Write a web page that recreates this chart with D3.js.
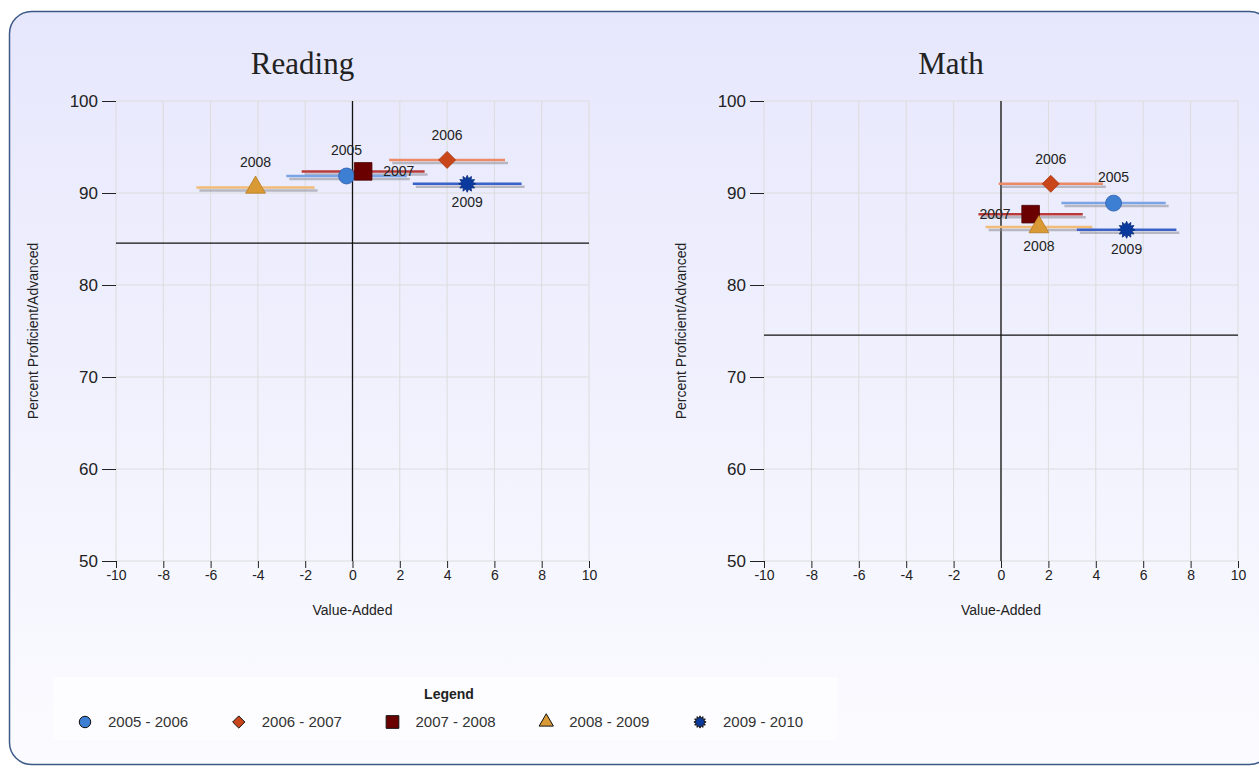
<!DOCTYPE html>
<html>
<head>
<meta charset="utf-8">
<title>Reading / Math value-added</title>
<style>
  body { margin: 0; background: #fff; }
  svg text { font-family: "Liberation Sans", Arial, sans-serif; }
  .title { font-family: "Liberation Serif", "Times New Roman", serif !important; font-size: 31px; fill: #222; }
  .grid line { stroke: #dcdcdc; stroke-width: 1; }
  .axis path { display: none; }
  .axis line { stroke: #222; }
  .axis text { fill: #222; }
</style>
</head>
<body>
<svg width="1259" height="768"></svg>
<script src="https://d3js.org/d3.v7.min.js"></script>
<script>

// ---- data ----
const years = ['2005', '2006', '2007', '2008', '2009'];
const legendLabels = ['2005 - 2006', '2006 - 2007', '2007 - 2008', '2008 - 2009', '2009 - 2010'];

const readingValueAdded = [-0.25, 4.0, 0.45, -4.1, 4.85];
const readingPercent    = [91.85, 93.6, 92.35, 90.6, 91.0];
const readingError      = [2.55, 2.45, 2.6, 2.5, 2.3];
const readingRef        = [0, 84.55];

const mathValueAdded = [4.75, 2.1, 1.25, 1.6, 5.3];
const mathPercent    = [88.9, 91.0, 87.7, 86.3, 86.0];
const mathError      = [2.2, 2.2, 2.2, 2.25, 2.1];
const mathRef        = [0, 74.55];

const xTicks = [-10, -8, -6, -4, -2, 0, 2, 4, 6, 8, 10];
const yTicks = [50, 60, 70, 80, 90, 100];

// ---- styles ----
const markerFill   = ['#3d7fd2', '#c8461a', '#6b0000', '#d99a35', '#0b3a9e'];
const markerStroke = ['#2a5ca8', '#a83510', '#4a0000', '#b87a20', '#062a7a'];
const barColor     = ['#7ba4e6', '#ec8a68', '#b83a3a', '#f2bb78', '#3a62c8'];

const svg = d3.select('svg');

const defs = svg.append('defs');
const grad = defs.append('linearGradient').attr('id', 'bg')
    .attr('x1', 0).attr('y1', 0).attr('x2', 0).attr('y2', 1);
grad.append('stop').attr('offset', '0%').attr('stop-color', '#e6e7fc');
grad.append('stop').attr('offset', '100%').attr('stop-color', '#fbfbff');

svg.append('rect')
    .attr('x', 9.5).attr('y', 11.5)
    .attr('width', 1262).attr('height', 753)
    .attr('rx', 22).attr('ry', 22)
    .attr('fill', 'url(#bg)')
    .attr('stroke', '#3d5a86')
    .attr('stroke-width', 1.5);

function burst(outer, inner, n) {
    const pts = [];
    for (let i = 0; i < n * 2; i++) {
        const r = i % 2 === 0 ? outer : inner;
        const a = Math.PI * i / n - Math.PI / 2;
        pts.push([r * Math.cos(a), r * Math.sin(a)]);
    }
    return 'M' + pts.map(p => p.join(',')).join('L') + 'Z';
}

function diamond(h) {
    return `M0,${-h}L${h},0L0,${h}L${-h},0Z`;
}

function markerPath(i, scale) {
    const s = scale || 1;
    if (i === 0) return d3.symbol(d3.symbolCircle, 200 * s * s)();
    if (i === 1) return diamond(8.5 * s);
    if (i === 2) return d3.symbol(d3.symbolSquare, 310 * s * s)();
    if (i === 3) return d3.symbol(d3.symbolTriangle, 170 * s * s)();
    return burst(8.5 * s, 5.5 * s, 12);
}

// label placement for each point: [dx, dy, anchor]
const readingLabelPos = [[0, -21, 'middle'], [0, -20, 'middle'], [20, 5, 'start'], [0, -20, 'middle'], [0, 23, 'middle']];
const mathLabelPos    = [[0, -21, 'middle'], [0, -20, 'middle'], [-20, 5, 'end'], [0, 24, 'middle'], [0, 24, 'middle']];

function panel(opts) {
    const left = opts.left, right = opts.right, top = 101, bottom = 561;
    const x = d3.scaleLinear().domain([-10, 10]).range([left, right]);
    const y = d3.scaleLinear().domain([50, 100]).range([bottom, top]);
    const g = svg.append('g');

    g.append('text').attr('class', 'title')
        .attr('x', (left + right) / 2 - 50).attr('y', 74)
        .attr('text-anchor', 'middle').text(opts.title);

    const grid = g.append('g').attr('class', 'grid');
    grid.selectAll('.gx').data(xTicks).join('line')
        .attr('x1', d => x(d)).attr('x2', d => x(d))
        .attr('y1', top).attr('y2', bottom);
    grid.selectAll('.gy').data(yTicks).join('line')
        .attr('class', 'gy')
        .attr('x1', left).attr('x2', right)
        .attr('y1', d => y(d)).attr('y2', d => y(d));

    g.append('g').attr('class', 'axis')
        .attr('transform', `translate(0,${bottom})`)
        .call(d3.axisBottom(x).tickValues(xTicks).tickFormat(d => String(d)).tickSize(7).tickPadding(2))
        .selectAll('text').style('font-size', '14px');

    g.append('g').attr('class', 'axis')
        .attr('transform', `translate(${left},0)`)
        .call(d3.axisLeft(y).tickValues(yTicks).tickSize(14).tickPadding(4))
        .selectAll('text').style('font-size', '17px');

    g.append('text')
        .attr('x', (left + right) / 2).attr('y', 615)
        .attr('text-anchor', 'middle').style('font-size', '14px').attr('fill', '#222')
        .text('Value-Added');

    g.append('text')
        .attr('transform', `translate(${left - 78},${(top + bottom) / 2}) rotate(-90)`)
        .attr('text-anchor', 'middle').style('font-size', '14px').attr('fill', '#222')
        .text('Percent Proficient/Advanced');

    // reference lines
    g.append('line')
        .attr('x1', x(opts.ref[0])).attr('x2', x(opts.ref[0]))
        .attr('y1', top).attr('y2', bottom)
        .attr('stroke', '#111').attr('stroke-width', 1.3);
    g.append('line')
        .attr('x1', left).attr('x2', right)
        .attr('y1', y(opts.ref[1])).attr('y2', y(opts.ref[1]))
        .attr('stroke', '#111').attr('stroke-width', 1.3);

    const pts = years.map((yr, i) => ({
        i: i, year: yr, va: opts.va[i], pct: opts.pct[i], err: opts.err[i], lp: opts.labelPos[i]
    }));

    // error bars with shadows
    g.selectAll('.shadow').data(pts).join('line')
        .attr('x1', d => x(d.va - d.err) + 3).attr('x2', d => x(d.va + d.err) + 3)
        .attr('y1', d => y(d.pct) + 3).attr('y2', d => y(d.pct) + 3)
        .attr('stroke', '#8c8c96').attr('stroke-opacity', 0.55).attr('stroke-width', 2.5);
    g.selectAll('.bar').data(pts).join('line')
        .attr('x1', d => x(d.va - d.err)).attr('x2', d => x(d.va + d.err))
        .attr('y1', d => y(d.pct)).attr('y2', d => y(d.pct))
        .attr('stroke', d => barColor[d.i]).attr('stroke-width', 2.5);

    g.selectAll('.mk').data(pts).join('path')
        .attr('transform', d => `translate(${x(d.va)},${y(d.pct)})`)
        .attr('d', d => markerPath(d.i))
        .attr('fill', d => markerFill[d.i])
        .attr('stroke', d => markerStroke[d.i]).attr('stroke-width', 0.8);

    g.selectAll('.lbl').data(pts).join('text')
        .attr('x', d => x(d.va) + d.lp[0]).attr('y', d => y(d.pct) + d.lp[1])
        .attr('text-anchor', d => d.lp[2])
        .style('font-size', '14px').attr('fill', '#222')
        .text(d => d.year);
}

panel({ title: 'Reading', left: 116, right: 589, va: readingValueAdded, pct: readingPercent,
        err: readingError, ref: readingRef, labelPos: readingLabelPos });
panel({ title: 'Math', left: 764, right: 1238, va: mathValueAdded, pct: mathPercent,
        err: mathError, ref: mathRef, labelPos: mathLabelPos });

// legend
const lg = svg.append('g');
lg.append('rect').attr('x', 53).attr('y', 677).attr('width', 785).attr('height', 63)
    .attr('fill', '#fdfdff');
lg.append('text').attr('x', 449).attr('y', 699).attr('text-anchor', 'middle')
    .style('font-size', '14px').style('font-weight', 'bold').attr('fill', '#222').text('Legend');

const legendX = d3.scalePoint().domain(legendLabels).range([85, 700]);
const item = lg.selectAll('.item').data(legendLabels).join('g')
    .attr('transform', d => `translate(${legendX(d)},722)`);
item.append('path')
    .attr('d', (d, i) => markerPath(i, 0.72))
    .attr('fill', (d, i) => markerFill[i])
    .attr('stroke', '#111').attr('stroke-width', 1);
item.append('text').attr('x', 23).attr('y', 5)
    .style('font-size', '15px').attr('fill', '#333').text(d => d);

</script>
</body>
</html>
